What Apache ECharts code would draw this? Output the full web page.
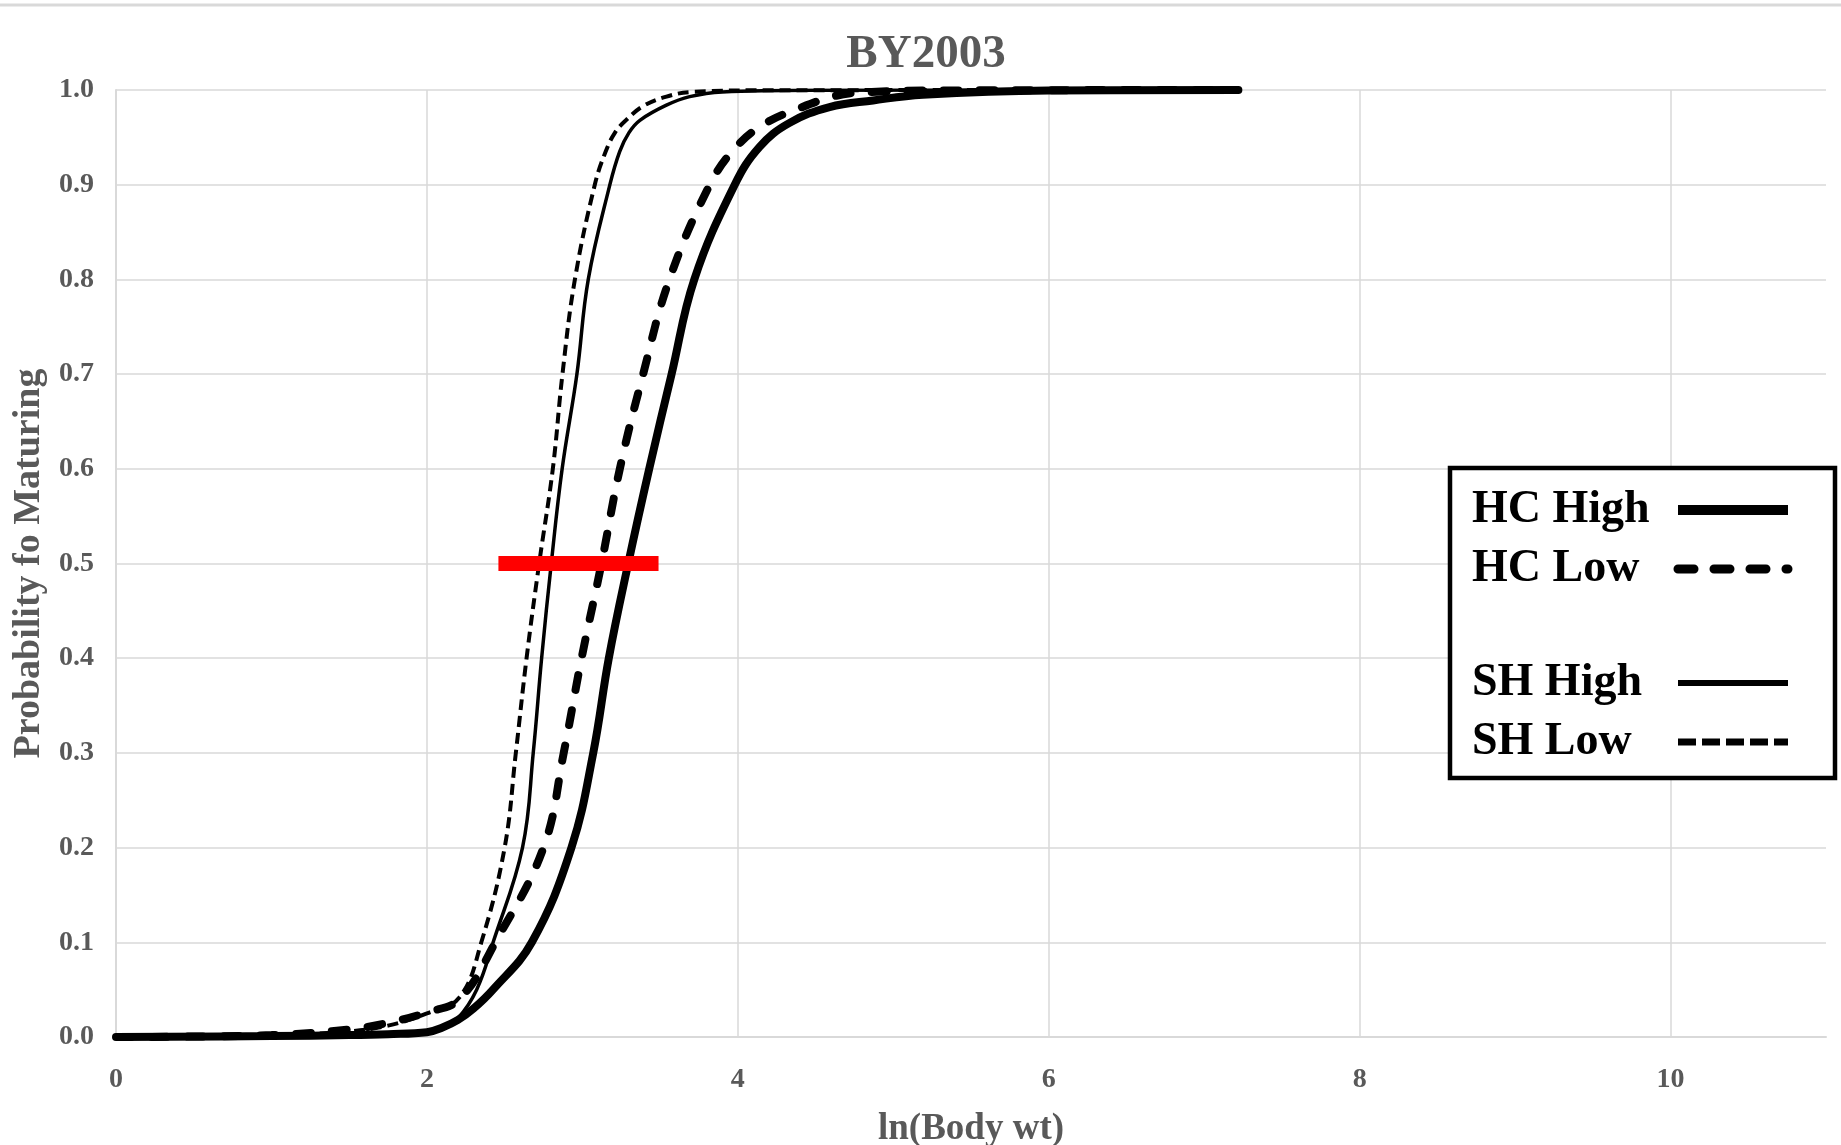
<!DOCTYPE html>
<html><head><meta charset="utf-8">
<script src="https://cdn.jsdelivr.net/npm/echarts@6/dist/echarts.min.js"></script>
<style>html,body{margin:0;padding:0;background:#fff}#c{width:1841px;height:1145px}</style>
</head><body><div id="c"></div>
<script>
const titleText = 'BY2003';
const xAxisName = 'ln(Body wt)';
const yAxisName = 'Probability fo Maturing';
const seriesNames = ['HC High', 'HC Low', 'SH High', 'SH Low'];

const hcHighX = [0, 1, 1.5, 1.75, 2, 2.1, 2.2, 2.3, 2.425, 2.675, 2.93, 3.07, 3.17, 3.295, 3.43, 3.574, 3.72, 3.98, 4.14, 4.33, 4.59, 4.87, 5.19, 6.0, 7.22];
const hcHighY = [0, 0.001, 0.002, 0.003, 0.005, 0.01, 0.018, 0.03, 0.05, 0.1, 0.2, 0.3, 0.4, 0.5, 0.6, 0.7, 0.8, 0.9, 0.94, 0.965, 0.982, 0.989, 0.995, 0.9995, 1.0];

const hcLowX = [0, 1, 1.5, 1.75, 2, 2.21, 2.44, 2.75, 2.88, 2.995, 3.123, 3.241, 3.391, 3.56, 3.82, 3.99, 4.18, 4.40, 4.61, 4.76, 5.3, 7.22];
const hcLowY = [0, 0.002, 0.008, 0.015, 0.026, 0.04, 0.1, 0.2, 0.3, 0.4, 0.5, 0.6, 0.7, 0.8, 0.9, 0.94, 0.965, 0.981, 0.993, 0.997, 0.9995, 1.0];

const shHighX = [0, 1, 1.5, 1.75, 2, 2.1, 2.2, 2.32, 2.426, 2.615, 2.684, 2.738, 2.80, 2.87, 2.965, 3.038, 3.177, 3.24, 3.30, 3.37, 3.541, 3.69, 3.90, 4.5, 7.22];
const shHighY = [0, 0.001, 0.002, 0.003, 0.005, 0.01, 0.02, 0.05, 0.1, 0.2, 0.3, 0.4, 0.5, 0.6, 0.7, 0.8, 0.9, 0.935, 0.955, 0.968, 0.984, 0.993, 0.998, 0.9998, 1.0];

const shLowX = [0, 1, 1.5, 1.75, 2, 2.21, 2.35, 2.50, 2.572, 2.641, 2.722, 2.81, 2.872, 2.952, 3.08, 3.15, 3.21, 3.28, 3.391, 3.541, 3.71, 4.3, 7.22];
const shLowY = [0, 0.002, 0.006, 0.012, 0.025, 0.042, 0.1, 0.2, 0.3, 0.4, 0.5, 0.6, 0.7, 0.8, 0.9, 0.935, 0.955, 0.968, 0.983, 0.993, 0.998, 0.9998, 1.0];

const markerX = [2.46, 3.49];
const markerY = [0.5, 0.5];

function zip(xs, ys) { return xs.map((x, i) => [x, ys[i]]); }

const serif = '"Liberation Serif", "Times New Roman", "DejaVu Serif", serif';
const gray = '#595959';
const gridColor = '#d9d9d9';

const chart = echarts.init(document.getElementById('c'), null, { renderer: 'canvas' });

function curve(name, xs, ys, lineStyle) {
  return {
    name: name, type: 'line', data: zip(xs, ys), symbol: 'none', showSymbol: false,
    smooth: 0.4, z: 3,
    lineStyle: Object.assign({ color: '#000' }, lineStyle),
    itemStyle: { color: '#000' }
  };
}

const legendText = {
  fontFamily: serif, fontWeight: 'bold', fontSize: 46, color: '#000', lineHeight: 50,
  rich: { a: { fontFamily: serif, fontWeight: 'bold', fontSize: 46, color: '#000', lineHeight: 50, width: 201, align: 'left' } }
};
const hiddenSymbol = { color: 'rgba(0,0,0,0)', borderWidth: 0, opacity: 0 };

chart.setOption({
  animation: false,
  backgroundColor: '#fff',
  title: {
    text: titleText, left: 921, top: 26, textAlign: 'center',
    textStyle: { fontFamily: serif, fontWeight: 'bold', fontSize: 47, color: gray }
  },
  grid: { left: 116, right: 15, top: 90, bottom: 108, containLabel: false, outerBoundsMode: 'none' },
  xAxis: {
    type: 'value', min: 0, max: 11, interval: 2,
    name: xAxisName, nameLocation: 'middle', nameGap: 74,
    nameTextStyle: { fontFamily: serif, fontWeight: 'bold', fontSize: 37, color: gray },
    axisLine: { show: true, lineStyle: { color: gridColor, width: 2 } },
    axisTick: { show: false },
    axisLabel: { fontFamily: serif, fontWeight: 'bold', fontSize: 28, color: gray, margin: 29, showMaxLabel: false },
    splitLine: { show: true, showMaxLine: false, lineStyle: { color: gridColor, width: 1.5 } }
  },
  yAxis: {
    type: 'value', min: 0, max: 1, interval: 0.1,
    name: yAxisName, nameLocation: 'middle', nameGap: 64, nameRotate: 90,
    nameTextStyle: { fontFamily: serif, fontWeight: 'bold', fontSize: 38, color: gray },
    axisLine: { show: true, lineStyle: { color: gridColor, width: 2 } },
    axisTick: { show: false },
    axisLabel: { fontFamily: serif, fontWeight: 'bold', fontSize: 28, color: gray, margin: 22,
      formatter: v => v.toFixed(1) },
    splitLine: { show: true, lineStyle: { color: gridColor, width: 1.5 } }
  },
  legend: [
    {
      orient: 'vertical', left: 1467, top: 480, align: 'right', itemGap: 9,
      itemWidth: 110, itemHeight: 20, textStyle: legendText, selectedMode: false,
      formatter: '{a|{name}}', itemStyle: hiddenSymbol,
      data: [
        { name: seriesNames[0], itemStyle: hiddenSymbol, lineStyle: { width: 10, type: 'solid', color: '#000' } },
        { name: seriesNames[1], itemStyle: hiddenSymbol, lineStyle: { width: 9, type: [16, 20], cap: 'round', color: '#000' } }
      ]
    },
    {
      orient: 'vertical', left: 1467, top: 653, align: 'right', itemGap: 9,
      itemWidth: 110, itemHeight: 20, textStyle: legendText, selectedMode: false,
      formatter: '{a|{name}}', itemStyle: hiddenSymbol,
      data: [
        { name: seriesNames[2], itemStyle: hiddenSymbol, lineStyle: { width: 6, type: 'solid', color: '#000' } },
        { name: seriesNames[3], itemStyle: hiddenSymbol, lineStyle: { width: 7, type: [18, 6], color: '#000' } }
      ]
    }
  ],
  graphic: [
    { type: 'line', shape: { x1: 0, y1: 5, x2: 1841, y2: 5 }, style: { stroke: '#d9d9d9', lineWidth: 3 }, z: 1 },
    { type: 'rect', shape: { x: 1450, y: 468, width: 385, height: 310 },
      style: { fill: '#fff', stroke: '#000', lineWidth: 4.5 }, z: 2 }
  ],
  series: [
    curve(seriesNames[0], hcHighX, hcHighY, { width: 8 }),
    curve(seriesNames[1], hcLowX, hcLowY, { width: 8, type: [15, 21], cap: 'round' }),
    curve(seriesNames[2], shHighX, shHighY, { width: 3.5 }),
    curve(seriesNames[3], shLowX, shLowY, { width: 4, type: [11, 6] }),
    {
      name: 'marker', type: 'line', data: zip(markerX, markerY), symbol: 'none', z: 5,
      lineStyle: { color: '#ff0000', width: 15 }, itemStyle: { color: '#ff0000' }
    }
  ]
});
</script></body></html>
